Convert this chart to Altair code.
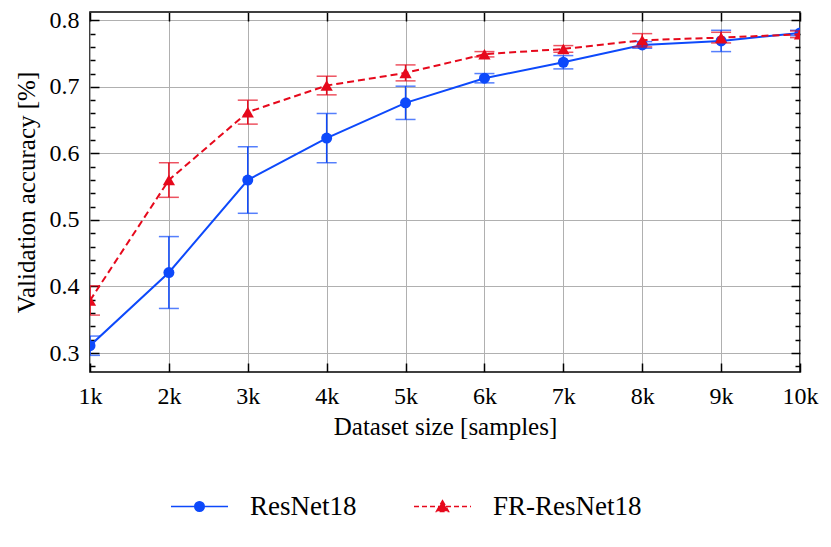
import altair as alt
import pandas as pd

# ---- data ----
sizes_k = [1, 2, 3, 4, 5, 6, 7, 8, 9, 10]
series_names = ["ResNet18", "FR-ResNet18"]
resnet_mean = [0.311, 0.421, 0.560, 0.623, 0.676, 0.713, 0.737, 0.763, 0.769, 0.781]
resnet_err = [0.0145, 0.054, 0.050, 0.037, 0.025, 0.007, 0.010, 0.005, 0.016, 0.004]
fr_mean = [0.379, 0.560, 0.662, 0.702, 0.721, 0.749, 0.757, 0.770, 0.774, 0.779]
fr_err = [0.022, 0.026, 0.018, 0.014, 0.012, 0.004, 0.005, 0.010, 0.008, 0.005]
y_major = [0.3, 0.4, 0.5, 0.6, 0.7, 0.8]
y_minor = [0.28, 0.32, 0.34, 0.36, 0.38, 0.42, 0.44, 0.46, 0.48, 0.52, 0.54, 0.56,
           0.58, 0.62, 0.64, 0.66, 0.68, 0.72, 0.74, 0.76, 0.78]
colors = ["#0d49fb", "#e6091c"]

FONT = "Liberation Serif, Times New Roman, Times, serif"

rows = []
for name, means, errs in [(series_names[0], resnet_mean, resnet_err),
                          (series_names[1], fr_mean, fr_err)]:
    for s, m, e in zip(sizes_k, means, errs):
        rows.append({"series": name, "size": s, "acc": m, "lo": m - e, "hi": m + e})
df = pd.DataFrame(rows)
caps = df.melt(id_vars=["series", "size"], value_vars=["lo", "hi"], value_name="cap")

xs = alt.Scale(domain=[1, 10], nice=False, zero=False)
ys = alt.Scale(domain=[0.2715, 0.8125], nice=False, zero=False)

# axes
ax_x_main = alt.Axis(values=sizes_k, labelExpr="datum.value + 'k'", title="Dataset size [samples]",
                     orient="bottom", offset=-9, tickSize=9, grid=True, labelFlush=False,
                     labelOverlap=False, labelPadding=12, titlePadding=6)
ax_x_top = alt.Axis(values=sizes_k, orient="top", offset=-9, tickSize=9, labels=False,
                    title=None, grid=False)
ax_y_main = alt.Axis(values=y_major, format=".1f", title="Validation accuracy [%]",
                     orient="left", offset=-9, tickSize=9, grid=True, labelPadding=11,
                     titlePadding=10)
ax_y_right = alt.Axis(values=y_major, orient="right", offset=-9, tickSize=9, labels=False,
                      title=None, grid=False)
ax_y_lminor = alt.Axis(values=y_minor, orient="left", offset=-5, tickSize=5, labels=False,
                       title=None, grid=False)
ax_y_rminor = alt.Axis(values=y_minor, orient="right", offset=-5, tickSize=5, labels=False,
                       title=None, grid=False)

path_circle = ("M-1,0H1M-0.165,0A0.165,0.165,0,1,0,0.165,0"
               "A0.165,0.165,0,1,0,-0.165,0Z")
path_tri = "M-1,0H1M0,-0.2L0.21,0.17L-0.21,0.17Z"


def layers_for(idx, rule_axes, cap_axes, shape, size, dash, legend_path, legend_x, legend_dash):
    name = series_names[idx]
    col = colors[idx]
    d = df[df["series"] == name]
    c = caps[caps["series"] == name]
    rule = alt.Chart(d).mark_rule(color=col, strokeWidth=1.5, clip=True).encode(
        x=alt.X("size:Q", scale=xs, axis=rule_axes[0]),
        y=alt.Y("lo:Q", scale=ys, axis=rule_axes[1]),
        y2="hi:Q",
    )
    cap = alt.Chart(c).mark_tick(color=col, orient="horizontal", size=20, thickness=1.5,
                                 clip=True).encode(
        x=alt.X("size:Q", scale=xs, axis=cap_axes[0]),
        y=alt.Y("cap:Q", scale=ys, axis=cap_axes[1]),
    )
    line_kw = dict(color=col, strokeWidth=2, clip=True)
    if dash:
        line_kw["strokeDash"] = dash
    line = alt.Chart(d).mark_line(**line_kw).encode(
        x=alt.X("size:Q", scale=xs, axis=None),
        y=alt.Y("acc:Q", scale=ys, axis=None),
    )
    leg_kw = dict(orient="none", legendX=legend_x, legendY=465, title=None,
                  symbolType=legend_path, symbolSize=3249, symbolStrokeWidth=1.6,
                  symbolStrokeColor=col, symbolFillColor=col,
                  labelFont=FONT, labelFontSize=27, labelColor="black", labelOffset=21,
                  padding=0)
    if legend_dash:
        leg_kw["symbolDash"] = legend_dash
    pts = alt.Chart(d).mark_point(shape=shape, filled=True, size=size, opacity=1,
                                  clip=True).encode(
        x=alt.X("size:Q", scale=xs, axis=None),
        y=alt.Y("acc:Q", scale=ys, axis=None),
        color=alt.Color("series:N", scale=alt.Scale(domain=[name], range=[col]),
                        legend=alt.Legend(**leg_kw)),
    )
    return [rule, cap, line, pts]


blue = layers_for(0, (ax_x_main, ax_y_main), (None, ax_y_lminor), "circle", 121, None,
                  path_circle, 80, None)
red = layers_for(1, (ax_x_top, ax_y_right), (None, ax_y_rminor), "triangle-up", 150, [7, 4],
                 path_tri, 323, [5, 3])

chart = alt.layer(*blue, *red).resolve_scale(color="independent").resolve_axis(
    x="independent", y="independent"
).properties(
    width=710, height=360,
    autosize=alt.AutoSizeParams(type="none"),
    padding={"left": 82, "top": 4, "right": 23, "bottom": 160},
).configure_view(stroke="black", strokeWidth=1.5).configure_axis(
    domain=False, tickColor="black", tickWidth=1.5,
    gridColor="#b0b0b0", gridWidth=1, gridOpacity=1,
    labelFont=FONT, labelFontSize=24, labelColor="black",
    titleFont=FONT, titleFontSize=25, titleFontWeight="normal", titleColor="black",
)

chart.save("out.html", embed_options={"renderer": "svg", "actions": False})
